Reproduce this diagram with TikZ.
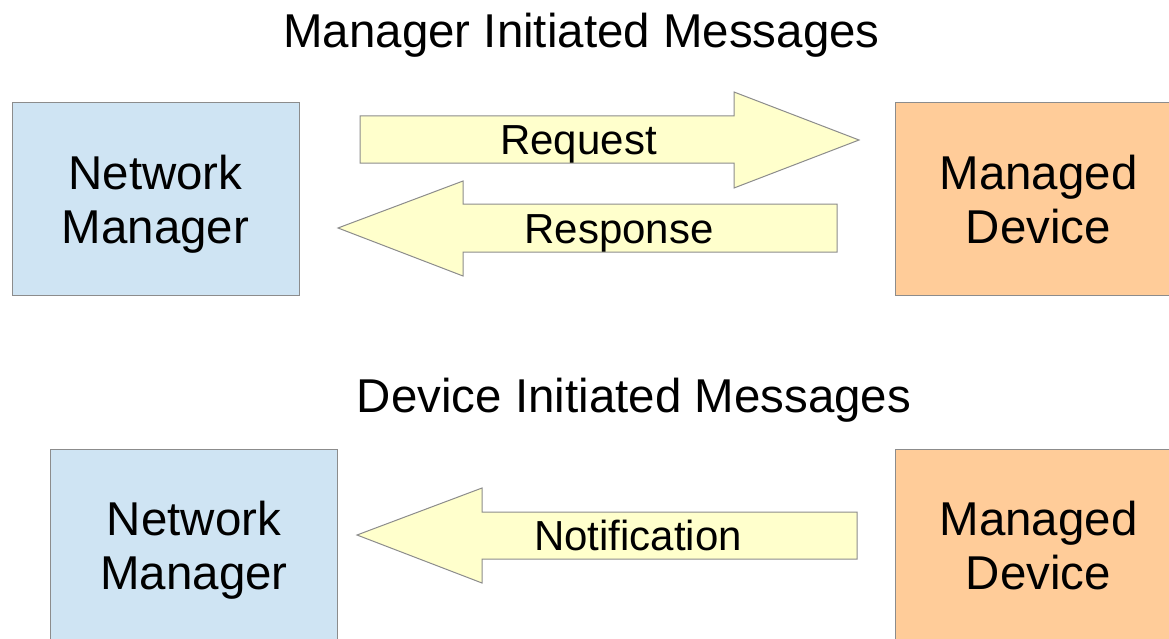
\documentclass[tikz,border=0pt]{standalone}
\usepackage{fontspec}
\setmainfont{Liberation Sans}
\definecolor{nmblue}{RGB}{207,228,243}
\definecolor{mdorange}{RGB}{255,204,153}
\definecolor{msgyellow}{RGB}{255,255,204}
\definecolor{edgegray}{RGB}{140,140,140}
\tikzset{
    unitbox/.style={draw=edgegray, line width=0.75pt, inner sep=0pt, align=center, text depth=0pt,
        minimum width=215.25pt, minimum height=144pt, font=\fontsize{35.6}{40.5}\selectfont},
    manager/.style={unitbox, fill=nmblue},
    device/.style={unitbox, fill=mdorange},
    msgarrow/.style={draw=edgegray, line width=0.75pt, fill=msgyellow, line join=miter},
    msglabel/.style={anchor=base, inner sep=0pt, font=\fontsize{31.5}{36}\selectfont},
    heading/.style={anchor=base, inner sep=0pt, font=\fontsize{35.6}{40.5}\selectfont}
}
\begin{document}
\begin{tikzpicture}[x=0.75pt, y=-0.75pt]
        \useasboundingbox (0,0) rectangle (1169,638);
        % manager initiated
        \node[heading] (title1) at (581.5,48) {Manager Initiated Messages};
        \node[manager] (nm1) at (155.5,199) {Network\\Manager};
        \node[device] (md1) at (1038.5,199) {Managed\\Device};
        \draw[msgarrow] (360,116) -- (734,116) -- (734,92) -- (859,140) -- (734,188) -- (734,163) -- (360,163) -- cycle;
        \draw[msgarrow] (837,204) -- (463,204) -- (463,181) -- (338,228) -- (463,276) -- (463,252) -- (837,252) -- cycle;
        \node[msglabel] (req) at (578.5,155) {Request};
        \node[msglabel] (resp) at (619,243.5) {Response};
        % device initiated
        \node[heading] (title2) at (634,412) {Device Initiated Messages};
        \node[manager] (nm2) at (194,545) {Network\\Manager};
        \node[device] (md2) at (1038.5,545) {Managed\\Device};
        \draw[msgarrow] (857,512) -- (482,512) -- (482,488) -- (357,535) -- (482,583) -- (482,559) -- (857,559) -- cycle;
        \node[msglabel] (notif) at (638,550) {Notification};
    \end{tikzpicture}
\end{document}
